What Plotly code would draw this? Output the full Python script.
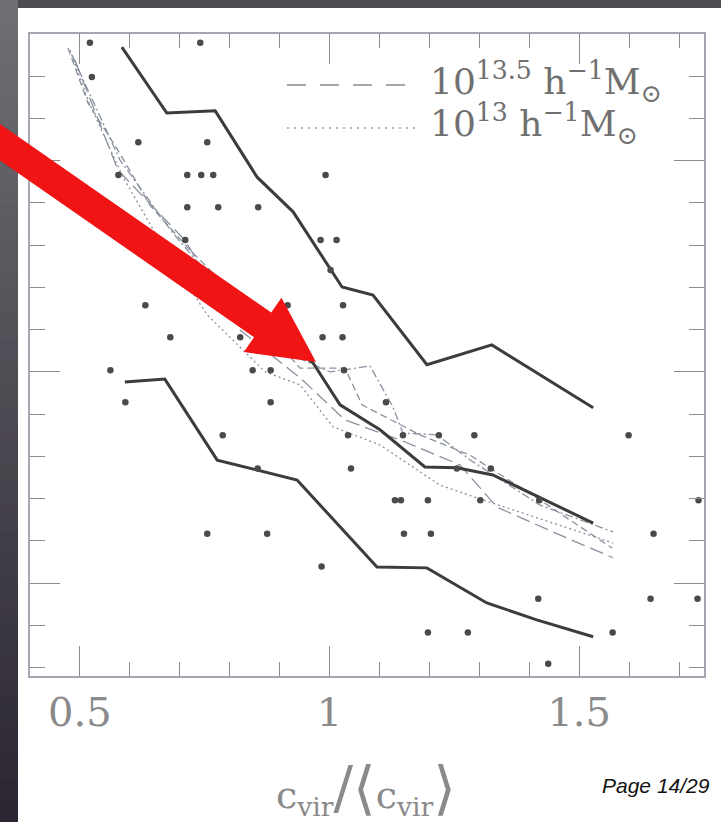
import plotly.graph_objects as go

# ---------------------------------------------------------------- data
# individual haloes
halo_x = [0.520, 0.741, 0.524, 0.617, 0.755,
          0.577, 0.715, 0.743, 0.767, 0.992,
          0.715, 0.777, 0.857,
          0.711, 0.982, 1.014,
          1.002,
          0.631, 0.916, 1.027,
          0.681, 0.821, 0.986, 1.026,
          0.561, 0.846, 0.882, 1.029,
          0.591, 0.882, 1.113,
          0.786, 1.037, 1.147, 1.219, 1.290, 1.599,
          0.856, 1.043, 1.255, 1.323,
          1.131, 1.143, 1.197, 1.302, 1.420, 1.739,
          0.755, 0.875, 1.149, 1.203, 1.649,
          0.984,
          1.418, 1.643, 1.737,
          1.197, 1.277, 1.567,
          1.438]
halo_y = [1.779, 1.779, 1.698, 1.544, 1.544,
          1.466, 1.466, 1.466, 1.466, 1.466,
          1.390, 1.390, 1.390,
          1.312, 1.312, 1.312,
          1.241,
          1.158, 1.158, 1.158,
          1.082, 1.082, 1.082, 1.082,
          1.004, 1.004, 1.004, 1.004,
          0.928, 0.928, 0.928,
          0.850, 0.850, 0.850, 0.850, 0.850, 0.850,
          0.771, 0.771, 0.771, 0.771,
          0.696, 0.696, 0.696, 0.696, 0.696, 0.696,
          0.617, 0.617, 0.617, 0.617, 0.617,
          0.539,
          0.463, 0.463, 0.463,
          0.383, 0.383, 0.383,
          0.309]

# running percentiles of the whole sample
upper_x = [0.584, 0.674, 0.771, 0.855, 0.927, 1.025, 1.087, 1.195, 1.325, 1.528]
upper_y = [1.769, 1.613, 1.618, 1.461, 1.379, 1.201, 1.182, 1.017, 1.064, 0.915]
median_x = [0.584, 0.967, 1.021, 1.101, 1.191, 1.255, 1.327, 1.528]
median_y = [1.379, 1.021, 0.922, 0.863, 0.775, 0.773, 0.756, 0.642]
lower_x = [0.590, 0.670, 0.775, 0.935, 1.095, 1.195, 1.315, 1.415, 1.528]
lower_y = [0.976, 0.983, 0.791, 0.744, 0.538, 0.536, 0.453, 0.413, 0.373]

# medians per mass bin
m135_x = [0.476, 0.516, 0.576, 0.640, 0.720, 0.821, 0.941, 1.031, 1.065, 1.181, 1.281, 1.421, 1.566]
m135_y = [1.767, 1.637, 1.525, 1.395, 1.289, 1.170, 1.009, 1.009, 0.922, 0.851, 0.803, 0.697, 0.583]
m13_x = [0.480, 0.520, 0.586, 0.670, 0.755, 0.871, 0.941, 1.007, 1.101, 1.221, 1.307, 1.441, 1.568]
m13_y = [1.762, 1.632, 1.462, 1.289, 1.135, 1.000, 0.969, 0.870, 0.827, 0.732, 0.697, 0.645, 0.595]
bin3_x = [0.484, 0.580, 0.686, 0.801, 0.901, 1.001, 1.081, 1.127, 1.147, 1.215, 1.281, 1.421, 1.568]
bin3_y = [1.750, 1.502, 1.329, 1.170, 1.052, 1.000, 1.014, 0.917, 0.855, 0.851, 0.792, 0.685, 0.621]
bin4_x = [0.490, 0.576, 0.710, 0.821, 0.941, 1.031, 1.141, 1.261, 1.335, 1.461, 1.568]
bin4_y = [1.738, 1.478, 1.312, 1.099, 0.986, 0.886, 0.839, 0.780, 0.680, 0.614, 0.560]

xtick_vals = [0.5, 1.0, 1.5]
xtick_text = ["0.5", "1", "1.5"]
legend_labels = ["10<sup>13.5</sup> h<sup>\u22121</sup>M<sub>\u2299</sub>",
                 "10<sup>13</sup> h<sup>\u22121</sup>M<sub>\u2299</sub>"]

# ---------------------------------------------------------------- layout geometry
W, H = 721, 822
ML, MR, MT, MB = 30, 17, 34, 146
PW, PH = W - ML - MR, H - MT - MB


def px(xp):
    return (xp - ML) / PW


def py(yp):
    return (H - MB - yp) / PH


fig = go.Figure()

thin = "#8a919e"
for xs, ys, dash in [(bin4_x, bin4_y, "14px,6px"),
                     (bin3_x, bin3_y, "8px,3px,2px,3px"),
                     (m13_x, m13_y, "2px,3px"),
                     (m135_x, m135_y, "7px,4px")]:
    fig.add_trace(go.Scatter(x=xs, y=ys, mode="lines",
                             line=dict(color=thin, width=1.3, dash=dash),
                             hoverinfo="skip", showlegend=False))

for xs, ys in [(upper_x, upper_y), (median_x, median_y), (lower_x, lower_y)]:
    fig.add_trace(go.Scatter(x=xs, y=ys, mode="lines",
                             line=dict(color="#3c3c3c", width=3),
                             showlegend=False))

fig.add_trace(go.Scatter(x=halo_x, y=halo_y, mode="markers",
                         marker=dict(color="#4a4a4a", size=6.5, symbol="circle",
                                     line=dict(width=0)),
                         showlegend=False))

tick_col = "#8c8c8c"
fig.update_xaxes(range=[0.4, 1.75], showgrid=False, zeroline=False,
                 showline=True, mirror="ticks", linecolor="#a3a8b0", linewidth=1.5,
                 ticks="inside", ticklen=30, tickwidth=1.2, tickcolor=tick_col,
                 tickmode="array", tickvals=xtick_vals, ticktext=xtick_text,
                 tickfont=dict(family="DejaVu Serif", size=40, color="#8a8a8a"),
                 minor=dict(dtick=0.1, tick0=0.4, ticks="inside", ticklen=14,
                            tickwidth=1.2, tickcolor=tick_col, showgrid=False))
fig.update_yaxes(range=[0.28, 1.8], showgrid=False, zeroline=False,
                 showline=True, mirror="ticks", linecolor="#a3a8b0", linewidth=1.5,
                 ticks="inside", ticklen=30, tickwidth=1.2, tickcolor=tick_col,
                 tick0=0.5, dtick=0.5, showticklabels=False,
                 minor=dict(dtick=0.1, tick0=0.3, ticks="inside", ticklen=15,
                            tickwidth=1.2, tickcolor=tick_col, showgrid=False))

shapes = []
# dark slide border: top strip plus a left strip shaded from grey to near black
shapes.append(dict(type="rect", xref="paper", yref="paper", layer="above",
                   x0=px(0), x1=px(W), y0=py(8), y1=py(-2),
                   fillcolor="#4e4d52", line=dict(width=0)))
top_rgb, bot_rgb = (112, 110, 116), (43, 38, 49)
n = 60
for i in range(n):
    t = i / (n - 1)
    r, g, b = (round(a + (c - a) * t) for a, c in zip(top_rgb, bot_rgb))
    shapes.append(dict(type="rect", xref="paper", yref="paper", layer="above",
                       x0=px(-2), x1=px(18),
                       y0=py(H * (i + 1) / n + 2), y1=py(H * i / n - 1),
                       fillcolor=f"rgb({r},{g},{b})", line=dict(width=0)))

# legend line samples
shapes.append(dict(type="line", xref="paper", yref="paper",
                   x0=px(287), x1=px(417), y0=py(85), y1=py(85),
                   line=dict(color="#8a8a8a", width=1.6, dash="19px,14px")))
shapes.append(dict(type="line", xref="paper", yref="paper",
                   x0=px(287), x1=px(417), y0=py(128), y1=py(128),
                   line=dict(color="#9a9a9a", width=1.3, dash="2px,5px")))

# red pointer arrow
tail = (-20.0, 128.3)
tip = (316.0, 362.0)
dx, dy = tip[0] - tail[0], tip[1] - tail[1]
L = (dx * dx + dy * dy) ** 0.5
ux, uy = dx / L, dy / L
nx, ny = -uy, ux
head_len, head_half, shaft_half = 65.0, 33.0, 15.0
mx, my = tip[0] - head_len * ux, tip[1] - head_len * uy
pts = [
    (tail[0] - shaft_half * nx, tail[1] - shaft_half * ny),
    (mx - shaft_half * nx, my - shaft_half * ny),
    (mx - head_half * nx, my - head_half * ny),
    tip,
    (mx + head_half * nx, my + head_half * ny),
    (mx + shaft_half * nx, my + shaft_half * ny),
    (tail[0] + shaft_half * nx, tail[1] + shaft_half * ny),
]
path = "M " + " L ".join(f"{px(a):.5f},{py(b):.5f}" for a, b in pts) + " Z"
shapes.append(dict(type="path", xref="paper", yref="paper", path=path,
                   fillcolor="#f01414", line=dict(width=0), layer="above"))

annotations = [
    dict(x=px(428), y=py(82), xref="paper", yref="paper", xanchor="left",
         yanchor="middle", showarrow=False, text=legend_labels[0],
         font=dict(family="DejaVu Serif", size=36, color="#707070")),
    dict(x=px(428), y=py(124), xref="paper", yref="paper", xanchor="left",
         yanchor="middle", showarrow=False, text=legend_labels[1],
         font=dict(family="DejaVu Serif", size=36, color="#707070")),
    dict(x=px(366), y=py(788), xref="paper", yref="paper", xanchor="center",
         yanchor="middle", showarrow=False,
         text="c<sub>vir</sub><span style=\"font-size:58px\">/\u27e8</span>"
              "c<sub>vir</sub><span style=\"font-size:58px\">\u27e9</span>",
         font=dict(family="DejaVu Serif", size=38, color="#8a8a8a")),
    dict(x=px(712), y=py(786), xref="paper", yref="paper", xanchor="right",
         yanchor="middle", showarrow=False, text="<i>Page 14/29</i>",
         font=dict(family="Liberation Sans", size=21, color="#111111")),
]

fig.update_layout(width=W, height=H, autosize=False,
                  margin=dict(l=ML, r=MR, t=MT, b=MB, pad=0),
                  paper_bgcolor="white", plot_bgcolor="white",
                  shapes=shapes, annotations=annotations, showlegend=False)

fig.write_html("out.html")
